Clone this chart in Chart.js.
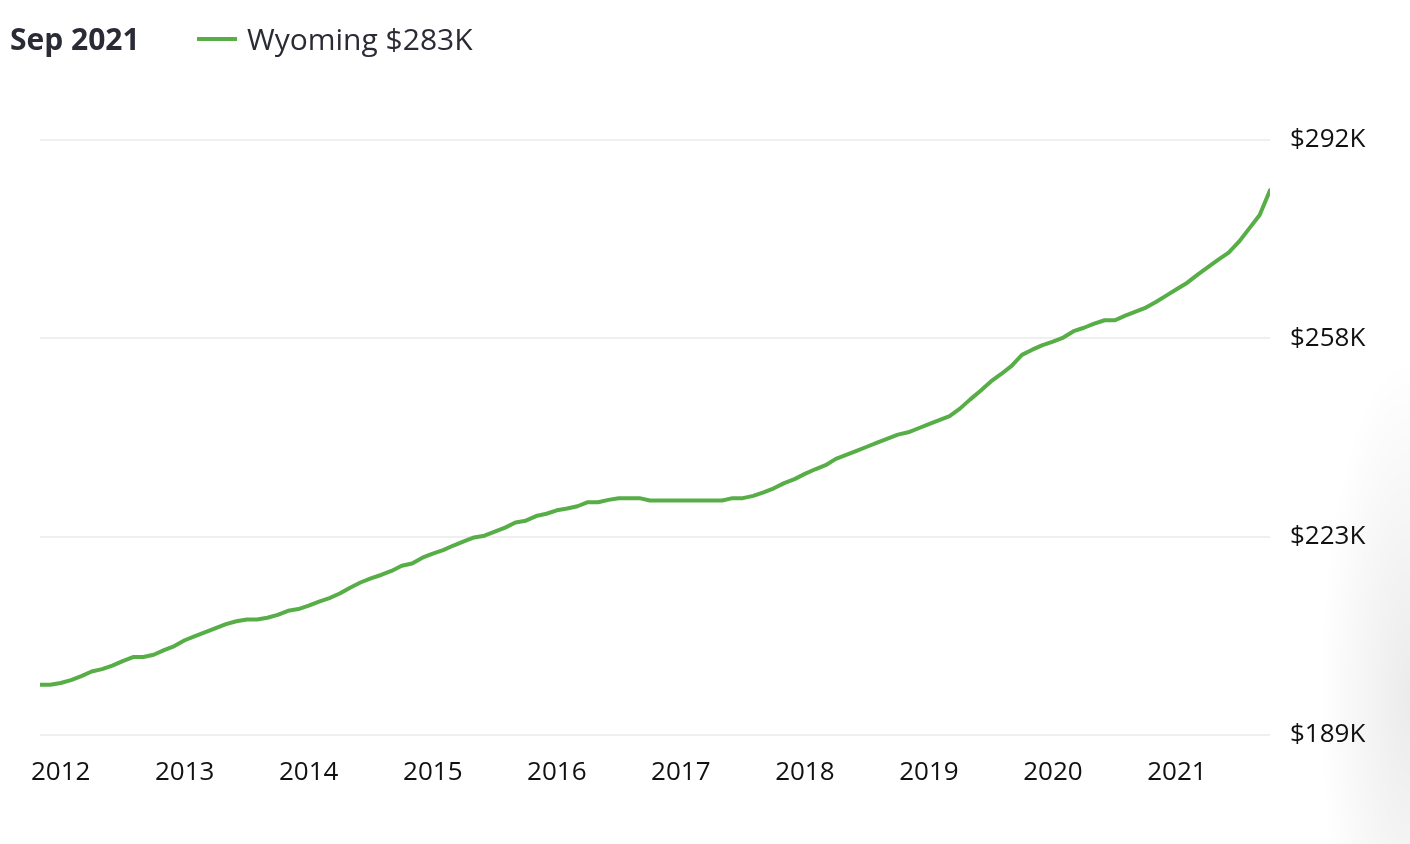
<!DOCTYPE html>
<html>
<head>
<meta charset="utf-8">
<script src="https://cdn.jsdelivr.net/npm/chart.js@4.4.1/dist/chart.umd.min.js"></script>
<style>
  html, body { margin: 0; padding: 0; background: #fff; }
  #wrap { position: relative; width: 1410px; height: 844px; overflow: hidden; font-family: "Open Sans", "Noto Sans", sans-serif; }
  #chartBox { position: absolute; left: 0; top: 0; width: 1410px; height: 844px; }
  #title { position: absolute; left: 10px; top: 24px; font-size: 30px; line-height: 1; font-weight: 700; color: #2b2b36; white-space: nowrap; }
  #legend { position: absolute; left: 197px; top: 24px; font-size: 30px; line-height: 1; color: #2b2b36; white-space: nowrap; }
  #legend .swatch { display: inline-block; width: 40px; height: 4px; vertical-align: middle; margin-right: 10px; position: relative; top: -3px; }
  #shade { position: absolute; right: 0; top: 360px; width: 90px; height: 484px;
    background: radial-gradient(ellipse 90px 340px at 100% 70%, rgba(0,0,0,0.08), rgba(0,0,0,0) 100%); pointer-events: none; }
</style>
</head>
<body>
<div id="wrap">
  <div id="chartBox"><canvas id="c"></canvas></div>
  <div id="title"></div>
  <div id="legend"><span class="swatch"></span><span id="legendText"></span></div>
  <div id="shade"></div>
</div>
<script>
// ---- data ----
const periodLabel = "Sep 2021";
const seriesName = "Wyoming";
const seriesColor = "#57ae47";
// monthly values (thousand $), Oct 2011 .. Sep 2021
const values = [
  197.7, 197.7, 198.0, 198.5, 199.2, 200.0, 200.4, 201.0, 201.8, 202.5,
  202.5, 202.9, 203.7, 204.4, 205.4, 206.1, 206.8, 207.5, 208.2, 208.7,
  209.0, 209.0, 209.3, 209.8, 210.5, 210.8, 211.4, 212.1, 212.7, 213.5,
  214.5, 215.4, 216.1, 216.7, 217.4, 218.3, 218.7, 219.7, 220.4, 221.0,
  221.8, 222.5, 223.2, 223.5, 224.2, 224.9, 225.8, 226.1, 226.9, 227.3,
  227.9, 228.2, 228.6, 229.3, 229.3, 229.7, 230.0, 230.0, 230.0, 229.6,
  229.6, 229.6, 229.6, 229.6, 229.6, 229.6, 229.6, 230.0, 230.0, 230.4,
  231.0, 231.7, 232.6, 233.3, 234.2, 235.0, 235.7, 236.8, 237.5, 238.2,
  238.9, 239.6, 240.3, 241.0, 241.4, 242.1, 242.8, 243.5, 244.2, 245.5,
  247.1, 248.6, 250.2, 251.5, 252.9, 254.8, 255.7, 256.5, 257.1, 257.8,
  258.9, 259.5, 260.2, 260.8, 260.8, 261.6, 262.3, 263.0, 264.0, 265.1,
  266.2, 267.3, 268.7, 270.0, 271.3, 272.5, 274.4, 276.7, 279.0, 283.3
];
// x tick positions (month index) and their labels
const xTickPositions = [2, 14, 26, 38, 50, 62, 74, 86, 98, 110];
const xTickLabels = ["2012", "2013", "2014", "2015", "2016", "2017", "2018", "2019", "2020", "2021"];
// y ticks (thousand $) and labels
const yTickValues = [189, 223.333, 257.667, 292];
const yTickLabels = ["$189K", "$223K", "$258K", "$292K"];

// ---- header ----
document.getElementById('title').textContent = periodLabel;
document.querySelector('#legend .swatch').style.background = seriesColor;
document.getElementById('legendText').textContent =
  seriesName + " $" + Math.round(values[values.length - 1]) + "K";

const points = values.map((v, i) => ({ x: i, y: v }));

new Chart(document.getElementById('c'), {
  type: 'line',
  data: {
    datasets: [{
      label: seriesName,
      data: points,
      borderColor: seriesColor,
      borderWidth: 4,
      pointRadius: 0,
      tension: 0,
      fill: false,
      borderJoinStyle: 'round',
      borderCapStyle: 'round'
    }]
  },
  options: {
    responsive: true,
    maintainAspectRatio: false,
    animation: false,
    layout: { padding: { left: 40, top: 140, right: 0, bottom: 0 } },
    plugins: { legend: { display: false }, tooltip: { enabled: false }, title: { display: false } },
    events: [],
    scales: {
      x: {
        type: 'linear',
        min: 0,
        max: values.length - 1,
        grid: { display: false },
        border: { display: false },
        afterFit: (s) => { s.height = 109; },
        afterBuildTicks: (s) => { s.ticks = xTickPositions.map(v => ({ value: v })); },
        ticks: {
          autoSkip: false,
          maxRotation: 0,
          padding: 14,
          color: '#111',
          font: { family: '"Open Sans", sans-serif', size: 26 },
          callback: (v) => { const k = xTickPositions.indexOf(v); return k >= 0 ? xTickLabels[k] : ''; }
        }
      },
      y: {
        type: 'linear',
        position: 'right',
        min: yTickValues[0],
        max: yTickValues[yTickValues.length - 1],
        border: { display: false },
        grid: { color: '#efefef', lineWidth: 2, drawTicks: false },
        afterFit: (s) => { s.width = 140; },
        afterBuildTicks: (s) => { s.ticks = yTickValues.map(v => ({ value: v })); },
        ticks: {
          padding: 20,
          color: '#111',
          font: { family: '"Open Sans", sans-serif', size: 26 },
          callback: (v) => {
            let k = -1;
            yTickValues.forEach((t, i) => { if (Math.abs(t - v) < 0.01) k = i; });
            return k >= 0 ? yTickLabels[k] : '';
          }
        }
      }
    }
  }
});
</script>
</body>
</html>
